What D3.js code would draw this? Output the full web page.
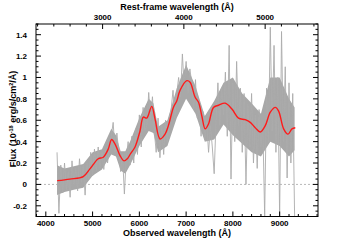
<!DOCTYPE html>
<html><head><meta charset="utf-8">
<script src="https://cdn.jsdelivr.net/npm/d3@7"></script>
<style>
html,body{margin:0;padding:0;background:#fff;}
svg text{font-family:"Liberation Sans",Arial,sans-serif;font-weight:bold;fill:#000;}
</style></head><body>
<svg id="c" width="355" height="240"></svg>
<script>
// observed-frame wavelength grid for the raw spectrum
const obsStart = 4240, obsStep = 40;
const fluxRaw = [
  0.30,-0.27,
  0.18,-0.08,0.20,-0.05,0.12,-0.12,0.22,0.00,
  0.15,-0.06,0.24,0.02,0.18,-0.10,0.20,0.05,
  0.30,0.08,0.33,0.12,0.35,0.15,
  0.30,0.14,0.32,0.20,0.35,
  0.45,0.58,0.30,0.48,
  0.30,0.12,0.28,-0.09,
  0.25,0.40,0.18,
  0.45,0.20,0.52,0.28,
  0.65,0.35,0.72,0.50,
  0.55,0.86,0.60,0.82,
  0.50,0.30,0.62,0.25,
  0.55,0.28,0.60,0.40,0.62,
  0.70,0.88,0.62,0.85,
  1.00,0.82,1.22,0.90,1.15,0.85,1.08,
  0.95,0.70,0.98,0.62,
  0.72,0.45,0.68,0.42,
  0.58,0.30,0.55,0.35,0.10,
  0.60,0.95,0.55,0.90,0.65,
  1.05,0.45,1.30,0.05,
  0.95,0.40,1.15,0.55,0.90,0.30,0.85,
  0.00,0.75,0.35,0.85,0.20,
  0.65,0.15,0.70,0.35,
  0.55,-0.30,0.90,0.40,
  1.47,0.50,1.30,0.30,1.00,
  -0.30,
  1.43,0.40,1.10,0.06,0.95,
  0.20,0.85,-0.30
];
// dense core of the noisy spectrum
const bandWave = [4240,4400,4600,4800,5000,5200,5400,5500,5600,5700,5800,6000,6200,6300,6400,6600,6800,7000,7200,7400,7600,7800,8000,8200,8400,8600,8800,9000,9200,9320];
const bandHi = [0.18,0.15,0.17,0.19,0.30,0.33,0.52,0.46,0.31,0.31,0.40,0.62,0.80,0.76,0.54,0.60,0.90,1.12,0.92,0.64,0.78,0.95,1.00,0.85,0.76,0.66,1.00,1.00,0.80,0.72];
const bandLo = [-0.10,-0.07,-0.05,-0.03,0.08,0.14,0.28,0.26,0.13,0.10,0.18,0.36,0.50,0.48,0.30,0.36,0.62,0.80,0.66,0.40,0.42,0.56,0.46,0.38,0.30,0.26,0.40,0.36,0.26,0.32];
// smoothed model (red)
const smoothWave = [4242,4514,4800,4943,5121,5228,5335,5407,5478,5586,5671,5743,5815,5907,6014,6085,6157,6265,6336,6443,6550,6621,6728,6800,6871,7015,7085,7193,7263,7336,7407,7478,7585,7692,7835,7979,8120,8264,8371,8478,8585,8692,8800,8907,8978,9085,9179,9264,9335];
const smoothFlux = [0.035,0.05,0.073,0.145,0.24,0.254,0.33,0.42,0.38,0.27,0.22,0.24,0.29,0.35,0.50,0.63,0.62,0.73,0.61,0.425,0.47,0.55,0.72,0.78,0.88,0.97,0.955,0.815,0.77,0.64,0.52,0.565,0.72,0.74,0.76,0.705,0.62,0.605,0.58,0.53,0.49,0.55,0.675,0.72,0.685,0.52,0.47,0.52,0.53];
const onePlusZ = 1.738;
const xDomain = [3790, 9820];
const yDomain = [-0.3, 1.5];
const yTicks = [-0.2, 0, 0.2, 0.4, 0.6, 0.8, 1, 1.2, 1.4];
const yTickLabels = ["-0.2","0","0.2","0.4","0.6","0.8","1","1.2","1.4"];
const xTicks = [4000,5000,6000,7000,8000,9000];
const restTicks = [3000,4000,5000];

const svg = d3.select("#c");
const L=36, R=318, T=24, B=216.5;
const x = d3.scaleLinear().domain(xDomain).range([L,R]);
const xr = d3.scaleLinear().domain([xDomain[0]/onePlusZ, xDomain[1]/onePlusZ]).range([L,R]);
const y = d3.scaleLinear().domain(yDomain).range([B,T]);

svg.append("clipPath").attr("id","pc").append("rect")
  .attr("x",L).attr("y",T).attr("width",R-L).attr("height",B-T);

svg.append("line").attr("x1",L).attr("x2",R).attr("y1",y(0)).attr("y2",y(0))
  .attr("stroke","#b8b8b8").attr("stroke-width",1).attr("stroke-dasharray","2,2");

const g = svg.append("g").attr("clip-path","url(#pc)");
const band = bandWave.map((w,i)=>[w, bandLo[i], bandHi[i]]);
g.append("path").datum(band)
  .attr("d", d3.area().x(d=>x(d[0])).y0(d=>y(d[1])).y1(d=>y(d[2])))
  .attr("fill","#a8a8a8").attr("stroke","none");

const raw = fluxRaw.map((f,i)=>[obsStart+i*obsStep, f]);
g.append("path").datum(raw)
  .attr("d", d3.line().x(d=>x(d[0])).y(d=>y(d[1])))
  .attr("fill","none").attr("stroke","#ababab").attr("stroke-width",0.9);

const sm = smoothWave.map((w,i)=>[w, smoothFlux[i]]);
g.append("path").datum(sm)
  .attr("d", d3.line().curve(d3.curveCatmullRom).x(d=>x(d[0])).y(d=>y(d[1])))
  .attr("fill","none").attr("stroke","#ff1a1a").attr("stroke-width",1.4);

svg.append("rect").attr("x",L).attr("y",T).attr("width",R-L).attr("height",B-T)
  .attr("fill","none").attr("stroke","#000").attr("stroke-width",1);

const tk = svg.append("g").attr("stroke","#000").attr("stroke-width",1);
const MAJ=5, MIN=2.5;
d3.range(3800, 9801, 200).forEach(v=>{
  const len = (v%1000===0)?MAJ:MIN;
  tk.append("line").attr("x1",x(v)).attr("x2",x(v)).attr("y1",B).attr("y2",B-len);
});
d3.range(2200, 5601, 200).forEach(v=>{
  const len = (v%1000===0)?MAJ:MIN;
  tk.append("line").attr("x1",xr(v)).attr("x2",xr(v)).attr("y1",T).attr("y2",T+len);
});
d3.range(-30, 151, 5).forEach(k=>{
  const v=k/100; const len=(k%20===0)?MAJ:MIN;
  tk.append("line").attr("x1",L).attr("x2",L+len).attr("y1",y(v)).attr("y2",y(v));
  tk.append("line").attr("x1",R).attr("x2",R-len).attr("y1",y(v)).attr("y2",y(v));
});

svg.selectAll(".xl").data(xTicks).enter().append("text")
  .attr("x",d=>x(d)).attr("y",225.5).attr("text-anchor","middle").attr("font-size",8).text(d=>d);
svg.selectAll(".rl").data(restTicks).enter().append("text")
  .attr("x",d=>xr(d)).attr("y",19.5).attr("text-anchor","middle").attr("font-size",8).text(d=>d);
svg.selectAll(".yl").data(yTicks).enter().append("text")
  .attr("x",27).attr("y",d=>y(d)+3).attr("text-anchor","end").attr("font-size",8).text((d,i)=>yTickLabels[i]);

svg.append("text").attr("x",(L+R)/2).attr("y",235.5).attr("text-anchor","middle").attr("font-size",9)
  .text("Observed wavelength (Å)");
svg.append("text").attr("x",(L+R)/2).attr("y",10).attr("text-anchor","middle").attr("font-size",9)
  .text("Rest-frame wavelength (Å)");
const yt = svg.append("text").attr("transform","translate(16,119) rotate(-90)").attr("text-anchor","middle").attr("font-size",9);
yt.append("tspan").text("Flux (10");
yt.append("tspan").attr("dy",-3.5).attr("font-size",5.5).text("-18");
yt.append("tspan").attr("dy",3.5).text(" erg/s/cm");
yt.append("tspan").attr("dy",-3.5).attr("font-size",5.5).text("2");
yt.append("tspan").attr("dy",3.5).text("/Å)");
</script>
</body></html>
